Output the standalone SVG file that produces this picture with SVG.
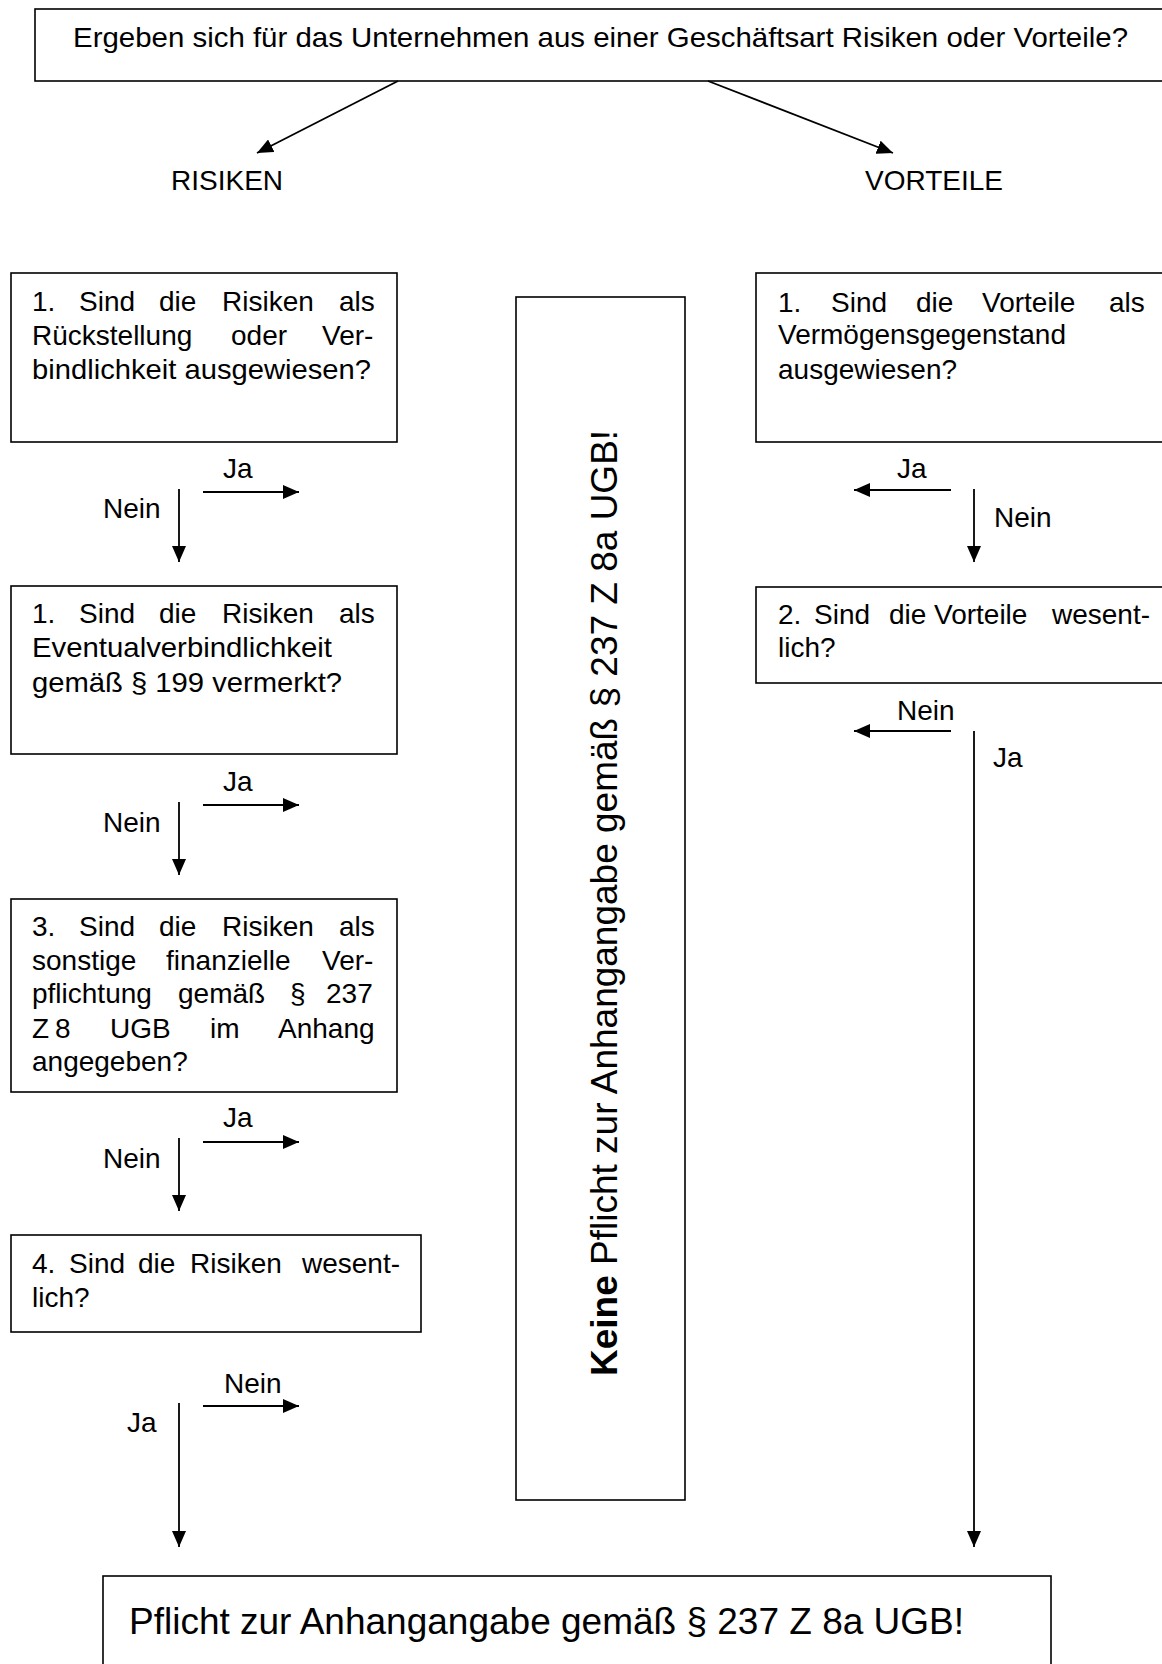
<svg xmlns="http://www.w3.org/2000/svg" width="1162" height="1664" viewBox="0 0 1162 1664">
<defs>
<style>
.box{fill:#fff;stroke:#000;stroke-width:1.6}
.t{font-family:"Liberation Sans",Arial,sans-serif;font-size:28px;fill:#000}
.big{font-family:"Liberation Sans",Arial,sans-serif;font-size:37px;fill:#000}
.ln{stroke:#000;stroke-width:1.8;fill:none}
.arr{stroke:#000;stroke-width:1.8;fill:none;marker-end:url(#ah)}
</style>
<marker id="ah" markerUnits="userSpaceOnUse" markerWidth="16" markerHeight="14" refX="16" refY="7" orient="auto">
<path d="M0,0 L16,7 L0,14 z" fill="#000"/>
</marker>
</defs>
<rect width="1162" height="1664" fill="#fff"/>

<g id="top">
<rect class="box" x="35" y="9" width="1150" height="72"/>
<text class="t" x="73" y="47" textLength="1055" lengthAdjust="spacingAndGlyphs">Ergeben sich für das Unternehmen aus einer Geschäftsart Risiken oder Vorteile?</text>
</g>

<g id="risiken-label"><text class="t" x="171" y="190">RISIKEN</text></g>
<g id="vorteile-label"><text class="t" x="865" y="190">VORTEILE</text></g>

<g id="r1">
<rect class="box" x="11" y="273" width="386" height="169"/>
<text class="t" y="311"><tspan x="32">1.</tspan><tspan x="79">Sind</tspan><tspan x="159">die</tspan><tspan x="222">Risiken</tspan><tspan x="339">als</tspan></text>
<text class="t" y="345"><tspan x="32">Rückstellung</tspan><tspan x="231">oder</tspan><tspan x="322">Ver-</tspan></text>
<text class="t" x="32" y="379" textLength="339" lengthAdjust="spacingAndGlyphs">bindlichkeit ausgewiesen?</text>
</g>

<g id="r2">
<rect class="box" x="11" y="586" width="386" height="168"/>
<text class="t" y="623"><tspan x="32">1.</tspan><tspan x="79">Sind</tspan><tspan x="159">die</tspan><tspan x="222">Risiken</tspan><tspan x="339">als</tspan></text>
<text class="t" x="32" y="657" textLength="300" lengthAdjust="spacingAndGlyphs">Eventualverbindlichkeit</text>
<text class="t" x="32" y="692" textLength="310" lengthAdjust="spacingAndGlyphs">gemäß § 199 vermerkt?</text>
</g>

<g id="r3">
<rect class="box" x="11" y="899" width="386" height="193"/>
<text class="t" y="936"><tspan x="32">3.</tspan><tspan x="79">Sind</tspan><tspan x="159">die</tspan><tspan x="222">Risiken</tspan><tspan x="339">als</tspan></text>
<text class="t" y="970"><tspan x="32">sonstige</tspan><tspan x="166">finanzielle</tspan><tspan x="322">Ver-</tspan></text>
<text class="t" y="1003"><tspan x="32">pflichtung</tspan><tspan x="178">gemäß</tspan><tspan x="290">§</tspan><tspan x="326">237</tspan></text>
<text class="t" y="1038"><tspan x="32">Z</tspan><tspan x="55">8</tspan><tspan x="110">UGB</tspan><tspan x="210">im</tspan><tspan x="278">Anhang</tspan></text>
<text class="t" x="32" y="1071">angegeben?</text>
</g>

<g id="r4">
<rect class="box" x="11" y="1235" width="410" height="97"/>
<text class="t" y="1273"><tspan x="32">4.</tspan><tspan x="69">Sind</tspan><tspan x="138">die</tspan><tspan x="190">Risiken</tspan><tspan x="302">wesent-</tspan></text>
<text class="t" x="32" y="1307">lich?</text>
</g>

<g id="v1">
<rect class="box" x="756" y="273" width="420" height="169"/>
<text class="t" y="312"><tspan x="778">1.</tspan><tspan x="831">Sind</tspan><tspan x="916">die</tspan><tspan x="982">Vorteile</tspan><tspan x="1109">als</tspan></text>
<text class="t" x="778" y="344">Vermögensgegenstand</text>
<text class="t" x="778" y="379">ausgewiesen?</text>
</g>

<g id="v2">
<rect class="box" x="756" y="587" width="420" height="96"/>
<text class="t" y="624"><tspan x="778">2.</tspan><tspan x="814">Sind</tspan><tspan x="889">die</tspan><tspan x="934">Vorteile</tspan><tspan x="1052">wesent-</tspan></text>
<text class="t" x="778" y="657">lich?</text>
</g>

<g id="keine">
<rect class="box" x="516" y="297" width="169" height="1203"/>
<text class="big" transform="translate(617,1376) rotate(-90)"><tspan font-weight="bold">Keine</tspan> Pflicht zur Anhangangabe gemäß § 237 Z 8a UGB!</text>
</g>

<g id="pflicht">
<rect class="box" x="103" y="1576" width="948" height="120"/>
<text class="big" x="129" y="1634">Pflicht zur Anhangangabe gemäß § 237 Z 8a UGB!</text>
</g>

<g id="connectors">
<line class="arr" x1="398" y1="81" x2="257" y2="153"/>
<line class="arr" x1="708" y1="81" x2="893" y2="153"/>

<line class="arr" x1="203" y1="492" x2="299" y2="492"/>
<line class="arr" x1="179" y1="489" x2="179" y2="562"/>
<line class="arr" x1="203" y1="805" x2="299" y2="805"/>
<line class="arr" x1="179" y1="802" x2="179" y2="875"/>
<line class="arr" x1="203" y1="1142" x2="299" y2="1142"/>
<line class="arr" x1="179" y1="1138" x2="179" y2="1211"/>
<line class="arr" x1="203" y1="1406" x2="299" y2="1406"/>
<line class="arr" x1="179" y1="1403" x2="179" y2="1547"/>

<line class="arr" x1="951" y1="490" x2="854" y2="490"/>
<line class="arr" x1="974" y1="489" x2="974" y2="562"/>
<line class="arr" x1="951" y1="731" x2="854" y2="731"/>
<line class="arr" x1="974" y1="731" x2="974" y2="1547"/>

<text class="t" x="223" y="478">Ja</text>
<text class="t" x="103" y="518">Nein</text>
<text class="t" x="223" y="791">Ja</text>
<text class="t" x="103" y="832">Nein</text>
<text class="t" x="223" y="1127">Ja</text>
<text class="t" x="103" y="1168">Nein</text>
<text class="t" x="224" y="1393">Nein</text>
<text class="t" x="127" y="1432">Ja</text>

<text class="t" x="897" y="478">Ja</text>
<text class="t" x="994" y="527">Nein</text>
<text class="t" x="897" y="720">Nein</text>
<text class="t" x="993" y="767">Ja</text>
</g>
</svg>
